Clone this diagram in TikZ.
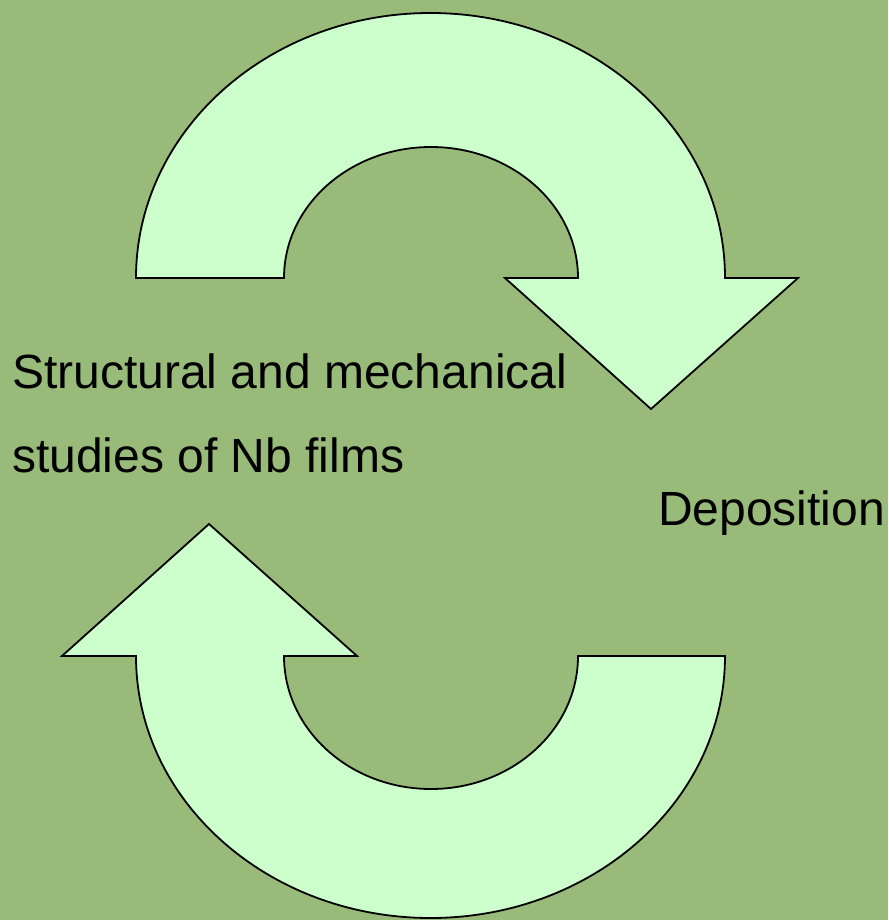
\documentclass[tikz,border=0pt]{standalone}
\usepackage{fontspec}
\setmainfont{Liberation Sans}
\definecolor{bggreen}{RGB}{153,187,121}
\definecolor{arrowfill}{RGB}{204,255,204}
\begin{document}
\begin{tikzpicture}[x=1pt,y=-1pt,
  cyclearrow/.style={fill=arrowfill,draw=black,line width=1.8pt,line join=miter},
  label/.style={anchor=base west,inner sep=0pt,font=\fontsize{48}{52}\selectfont}]
\fill[bggreen] (0,0) rectangle (888,920);
\useasboundingbox (0,0) rectangle (888,920);
% top arrow
\draw[cyclearrow] (136,278) arc[start angle=180,end angle=0,x radius=294.5pt,y radius=265pt]
  -- (798,278) -- (651,409) -- (505,278) -- (578,278)
  arc[start angle=0,end angle=180,x radius=147pt,y radius=131pt] -- cycle;
% bottom arrow
\draw[cyclearrow] (725,656) arc[start angle=0,end angle=-180,x radius=294.5pt,y radius=262pt]
  -- (62,656) -- (209,524) -- (357,656) -- (284,656)
  arc[start angle=180,end angle=360,x radius=147pt,y radius=133pt] -- cycle;
\node[label] (l1) at (12,388) {Structural and mechanical};
\node[label] (l2) at (12,472) {studies of Nb films};
\node[label] (dep) at (658,525) {Deposition};
\end{tikzpicture}
\end{document}
